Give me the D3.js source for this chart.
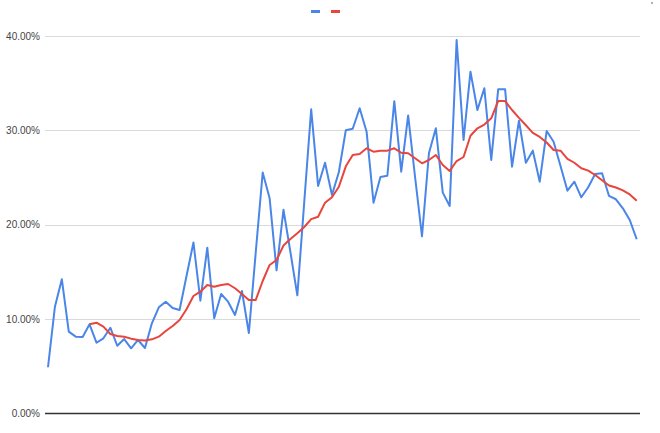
<!DOCTYPE html>
<html>
<head>
<meta charset="utf-8">
<script src="https://cdn.jsdelivr.net/npm/d3@7"></script>
<style>
  html, body { margin: 0; padding: 0; background: #fff; }
  svg { display: block; }
</style>
</head>
<body>
<svg id="chart" width="660" height="433"></svg>
<script>
// ---- data ----
const categories = d3.range(1, 87); // 86 periods (no x labels shown)
const seriesBlue = [
  4.90, 11.32, 14.22, 8.67, 8.14, 8.11, 9.45, 7.50, 7.97, 9.09,
  7.18, 7.89, 6.91, 7.79, 6.94, 9.56, 11.25, 11.85, 11.18, 10.97,
  14.57, 18.12, 11.95, 17.57, 10.09, 12.66, 11.85, 10.44, 12.98, 8.53,
  17.11, 25.54, 22.80, 15.17, 21.59, 17.11, 12.52, 22.41, 32.23, 24.11,
  26.57, 23.15, 25.59, 30.01, 30.17, 32.34, 29.86, 22.34, 25.06, 25.19,
  33.09, 25.62, 31.58, 25.06, 18.78, 27.57, 30.22, 23.40, 21.99, 39.58,
  28.98, 36.22, 32.16, 34.46, 26.86, 34.35, 34.35, 26.15, 31.02, 26.57,
  27.85, 24.56, 29.93, 28.80, 26.23, 23.61, 24.56, 22.91, 23.97, 25.38,
  25.45, 23.05, 22.70, 21.74, 20.50, 18.46
];
const seriesRed = [
  null, null, null, null, null, null, 9.45, 9.62, 9.20, 8.42,
  8.21, 8.14, 7.93, 7.79, 7.74, 7.86, 8.14, 8.74, 9.27, 9.91,
  11.04, 12.45, 12.91, 13.62, 13.44, 13.62, 13.72, 13.27, 12.66, 12.03,
  12.03, 14.04, 15.74, 16.26, 17.80, 18.49, 19.09, 19.76, 20.59, 20.85,
  22.34, 22.91, 24.03, 26.19, 27.39, 27.50, 28.10, 27.74, 27.85, 27.85,
  28.10, 27.63, 27.57, 27.04, 26.51, 26.86, 27.39, 26.33, 25.70, 26.75,
  27.18, 29.43, 30.22, 30.62, 31.28, 33.11, 33.11, 32.16, 31.33, 30.54,
  29.74, 29.30, 28.72, 27.92, 27.85, 26.99, 26.57, 25.98, 25.73, 25.27,
  24.71, 24.16, 23.95, 23.65, 23.21, 22.55
];
const yTicks = [0, 10, 20, 30, 40];

// ---- layout ----
const svg = d3.select("#chart");
const plotLeft = 45, plotRight = 640;
const y = d3.scaleLinear().domain([0, 40]).range([413.5, 36]);
const x = d3.scaleLinear().domain([0, categories.length - 1]).range([48, 636.7]);

// gridlines
svg.append("g")
  .selectAll("line")
  .data(yTicks.filter(d => d !== 0))
  .join("line")
  .attr("x1", plotLeft).attr("x2", plotRight)
  .attr("y1", d => Math.round(y(d)) + 0.5).attr("y2", d => Math.round(y(d)) + 0.5)
  .attr("stroke", "#d9d9d9").attr("stroke-width", 1);

// y axis labels
const yAxis = d3.axisLeft(y).tickValues(yTicks)
  .tickFormat(d => d3.format(".2f")(d) + "%")
  .tickSize(0).tickPadding(5);
const gy = svg.append("g").attr("transform", `translate(${plotLeft},0)`).call(yAxis);
gy.select(".domain").remove();
gy.selectAll("text")
  .attr("font-family", "'Liberation Sans', Arial, sans-serif")
  .attr("font-size", 10)
  .attr("fill", "#444");

// baseline
svg.append("line")
  .attr("x1", plotLeft).attr("x2", plotRight)
  .attr("y1", y(0)).attr("y2", y(0))
  .attr("stroke", "#333").attr("stroke-width", 1.3);

// lines
const line = d3.line()
  .defined(d => d != null)
  .x((d, i) => x(i))
  .y(d => y(d));

svg.append("path")
  .datum(seriesBlue)
  .attr("fill", "none")
  .attr("stroke", "#4a86e8")
  .attr("stroke-width", 2)
  .attr("stroke-linejoin", "round")
  .attr("d", line);

svg.append("path")
  .datum(seriesRed)
  .attr("fill", "none")
  .attr("stroke", "#e8453c")
  .attr("stroke-width", 2)
  .attr("stroke-linejoin", "round")
  .attr("d", line);

// legend (swatches only)
const legend = svg.append("g");
[["#4a86e8", 311], ["#e8453c", 331]].forEach(([c, lx]) => {
  legend.append("line")
    .attr("x1", lx).attr("x2", lx + 9)
    .attr("y1", 11.5).attr("y2", 11.5)
    .attr("stroke", c).attr("stroke-width", 3);
});

// small menu dot at top-right
svg.append("circle").attr("cx", 652).attr("cy", 3).attr("r", 1).attr("fill", "#999");
</script>
</body>
</html>
